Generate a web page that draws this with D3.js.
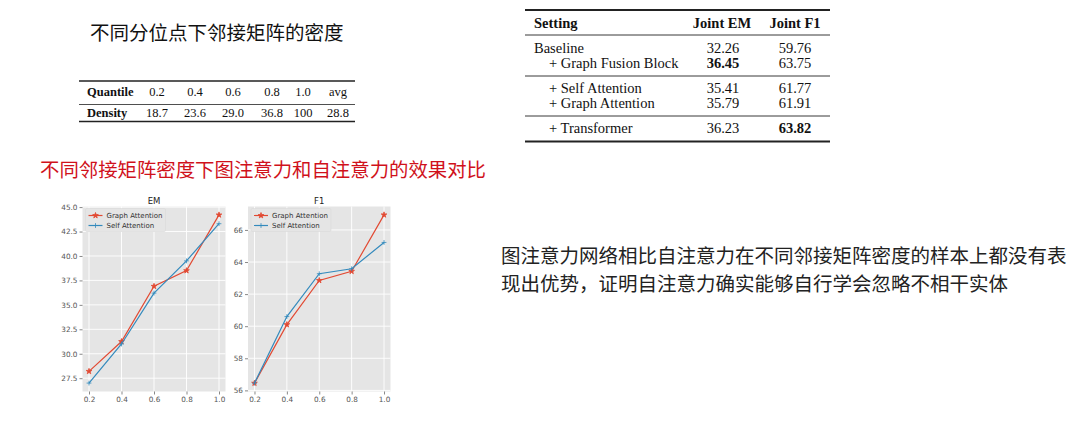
<!DOCTYPE html>
<html lang="zh">
<head>
<meta charset="UTF-8">
<title>邻接矩阵密度</title>
<script src="https://d3js.org/d3.v7.min.js"></script>
<style>
  body { margin: 0; background: #fff; }
  svg { display: block; }
  .cjk { font-family: "Noto Sans CJK SC", sans-serif; }
  .tbl { font-family: "Liberation Serif", "Times New Roman", serif; fill: #111; }
  .mpl { font-family: "DejaVu Sans", sans-serif; }
</style>
</head>
<body>
<div id="chart"></div>
<script>
// ---- data ----
const quantiles = [0.2, 0.4, 0.6, 0.8, 1.0];
const emGraph = [28.2, 31.25, 36.9, 38.5, 44.2];
const emSelf  = [27.0, 31.0, 36.2, 39.5, 43.3];
const f1Graph = [56.45, 60.1, 62.85, 63.42, 66.94];
const f1Self  = [56.45, 60.6, 63.27, 63.58, 65.22];
const emTicks = [27.5, 30.0, 32.5, 35.0, 37.5, 40.0, 42.5, 45.0];
const f1Ticks = [56, 58, 60, 62, 64, 66];
const seriesNames = ["Graph Attention", "Self Attention"];

const densityHeader = ["Quantile", "0.2", "0.4", "0.6", "0.8", "1.0", "avg"];
const densityRow    = ["Density", "18.7", "23.6", "29.0", "36.8", "100", "28.8"];

const settingHeader = ["Setting", "Joint EM", "Joint F1"];
const settingRows = [
  {name: "Baseline", em: "32.26", f1: "59.76", indent: false},
  {name: "+ Graph Fusion Block", em: "36.45", f1: "63.75", indent: true, boldEm: true},
  {name: "+ Self Attention", em: "35.41", f1: "61.77", indent: true},
  {name: "+ Graph Attention", em: "35.79", f1: "61.91", indent: true},
  {name: "+ Transformer", em: "36.23", f1: "63.82", indent: true, boldF1: true}
];

const width = 1080, height = 431;
const red = "#E24A33", blue = "#348ABD";

const svg = d3.select("#chart").append("svg")
  .attr("width", width).attr("height", height);

// ---- headings ----
svg.append("text").attr("class", "cjk")
  .attr("x", 90).attr("y", 40)
  .attr("font-size", 19.5).attr("fill", "#111")
  .text("不同分位点下邻接矩阵的密度");

svg.append("text").attr("class", "cjk")
  .attr("x", 40).attr("y", 177)
  .attr("font-size", 19.4).attr("fill", "#d0111b")
  .text("不同邻接矩阵密度下图注意力和自注意力的效果对比");

const note = svg.append("text").attr("class", "cjk")
  .attr("font-size", 19.5).attr("fill", "#222");
note.append("tspan").attr("x", 501).attr("y", 263)
  .text("图注意力网络相比自注意力在不同邻接矩阵密度的样本上都没有表");
note.append("tspan").attr("x", 501).attr("y", 291)
  .text("现出优势，证明自注意力确实能够自行学会忽略不相干实体");

// ---- density table ----
const dt = svg.append("g");
const dCols = [87, 157, 195, 233, 272, 303, 338];
function rule(g, x1, x2, y, w) {
  g.append("line").attr("x1", x1).attr("x2", x2).attr("y1", y).attr("y2", y)
    .attr("stroke", "#222").attr("stroke-width", w);
}
rule(dt, 79, 355, 81, 1.4);
rule(dt, 79, 355, 104.5, 0.8);
rule(dt, 79, 355, 121.5, 1.4);
[densityHeader, densityRow].forEach((row, r) => {
  dt.selectAll(null).data(row).join("text")
    .attr("class", "tbl")
    .attr("x", (d, i) => dCols[i])
    .attr("y", r === 0 ? 96 : 117)
    .attr("text-anchor", (d, i) => i === 0 ? "start" : "middle")
    .attr("font-size", 12.5)
    .attr("font-weight", (d, i) => i === 0 ? "bold" : "normal")
    .text(d => d);
});

// ---- setting table ----
const st = svg.append("g");
rule(st, 525, 830, 10, 1.8);
rule(st, 525, 830, 35, 0.9);
rule(st, 525, 830, 76, 0.9);
rule(st, 525, 830, 116, 0.9);
rule(st, 525, 830, 141.5, 1.8);
st.selectAll(null).data(settingHeader).join("text")
  .attr("class", "tbl")
  .attr("x", (d, i) => [534, 722, 795][i])
  .attr("y", 28)
  .attr("text-anchor", (d, i) => i === 0 ? "start" : "middle")
  .attr("font-size", 14.5).attr("font-weight", "bold")
  .text(d => d);
const rowY = [52.5, 67.5, 92.5, 107.5, 132.5];
settingRows.forEach((r, i) => {
  st.append("text").attr("class", "tbl")
    .attr("x", r.indent ? 549 : 534).attr("y", rowY[i])
    .attr("font-size", 14.5).text(r.name);
  st.append("text").attr("class", "tbl")
    .attr("x", 723).attr("y", rowY[i]).attr("text-anchor", "middle")
    .attr("font-size", 14.5).attr("font-weight", r.boldEm ? "bold" : "normal")
    .text(r.em);
  st.append("text").attr("class", "tbl")
    .attr("x", 795).attr("y", rowY[i]).attr("text-anchor", "middle")
    .attr("font-size", 14.5).attr("font-weight", r.boldF1 ? "bold" : "normal")
    .text(r.f1);
});

// ---- line panels ----
const starPath = d3.symbol().type(d3.symbolStar).size(10)();
const plusPath = "M-2.4,0H2.4M0,-2.4V2.4";

function drawPanel(cfg) {
  const g = svg.append("g");
  const x = d3.scaleLinear().domain([0.16, 1.04]).range([cfg.left, cfg.right]);
  const y = d3.scaleLinear().domain(cfg.domain).range([cfg.bottom, cfg.top]);

  g.append("rect")
    .attr("x", cfg.left).attr("y", cfg.top)
    .attr("width", cfg.right - cfg.left).attr("height", cfg.bottom - cfg.top)
    .attr("fill", "#E5E5E5");

  // grid
  g.selectAll(null).data(quantiles).join("line")
    .attr("x1", d => x(d)).attr("x2", d => x(d))
    .attr("y1", cfg.top).attr("y2", cfg.bottom)
    .attr("stroke", "#fff").attr("stroke-width", 0.9);
  g.selectAll(null).data(cfg.ticks).join("line")
    .attr("x1", cfg.left).attr("x2", cfg.right)
    .attr("y1", d => y(d)).attr("y2", d => y(d))
    .attr("stroke", "#fff").attr("stroke-width", 0.9);

  // axes
  const xa = g.append("g").attr("transform", `translate(0,${cfg.bottom})`)
    .call(d3.axisBottom(x).tickValues(quantiles).tickFormat(d3.format(".1f")).tickSize(3).tickPadding(2));
  const ya = g.append("g").attr("transform", `translate(${cfg.left},0)`)
    .call(d3.axisLeft(y).tickValues(cfg.ticks).tickFormat(cfg.fmt).tickSize(3).tickPadding(2));
  [xa, ya].forEach(a => {
    a.select(".domain").remove();
    a.selectAll("line").attr("stroke", "#555").attr("stroke-width", 0.7);
    a.selectAll("text").attr("class", "mpl").attr("font-size", 7.3).attr("fill", "#555");
  });

  g.append("text").attr("class", "mpl")
    .attr("x", (cfg.left + cfg.right) / 2).attr("y", cfg.top - 3)
    .attr("text-anchor", "middle").attr("font-size", 8.5).attr("fill", "#222")
    .text(cfg.title);

  const line = d3.line().x((d, i) => x(quantiles[i])).y(d => y(d));
  const series = [
    {vals: cfg.graph, color: red, mark: starPath},
    {vals: cfg.self, color: blue, mark: plusPath}
  ];
  series.forEach(s => {
    g.append("path").datum(s.vals)
      .attr("d", line).attr("fill", "none")
      .attr("stroke", s.color).attr("stroke-width", 1.2);
    g.selectAll(null).data(s.vals).join("path")
      .attr("transform", (d, i) => `translate(${x(quantiles[i])},${y(d)})`)
      .attr("d", s.mark)
      .attr("fill", s.color).attr("stroke", s.color).attr("stroke-width", 0.8);
  });

  // legend
  const lg = g.append("g").attr("transform", `translate(${cfg.left + 3},${cfg.top + 2})`);
  lg.append("rect").attr("width", 80).attr("height", 23).attr("rx", 1.5)
    .attr("fill", "#E5E5E5").attr("stroke", "#d8d8d8").attr("stroke-width", 0.6);
  series.forEach((s, i) => {
    const yy = 7 + i * 10;
    lg.append("line").attr("x1", 3).attr("x2", 17).attr("y1", yy).attr("y2", yy)
      .attr("stroke", s.color).attr("stroke-width", 1.2);
    lg.append("path").attr("transform", `translate(10,${yy})`).attr("d", s.mark)
      .attr("fill", s.color).attr("stroke", s.color).attr("stroke-width", 0.8);
    lg.append("text").attr("class", "mpl")
      .attr("x", 21).attr("y", yy + 2.5)
      .attr("font-size", 7).attr("fill", "#333")
      .text(seriesNames[i]);
  });
}

drawPanel({
  title: "EM", left: 82.5, right: 225.5, top: 206.5, bottom: 391.5,
  domain: [26.14, 45.06], ticks: emTicks, fmt: d3.format(".1f"),
  graph: emGraph, self: emSelf
});
drawPanel({
  title: "F1", left: 248, right: 390.5, top: 206.5, bottom: 391.5,
  domain: [55.93, 67.46], ticks: f1Ticks, fmt: d3.format("d"),
  graph: f1Graph, self: f1Self
});
</script>
</body>
</html>
